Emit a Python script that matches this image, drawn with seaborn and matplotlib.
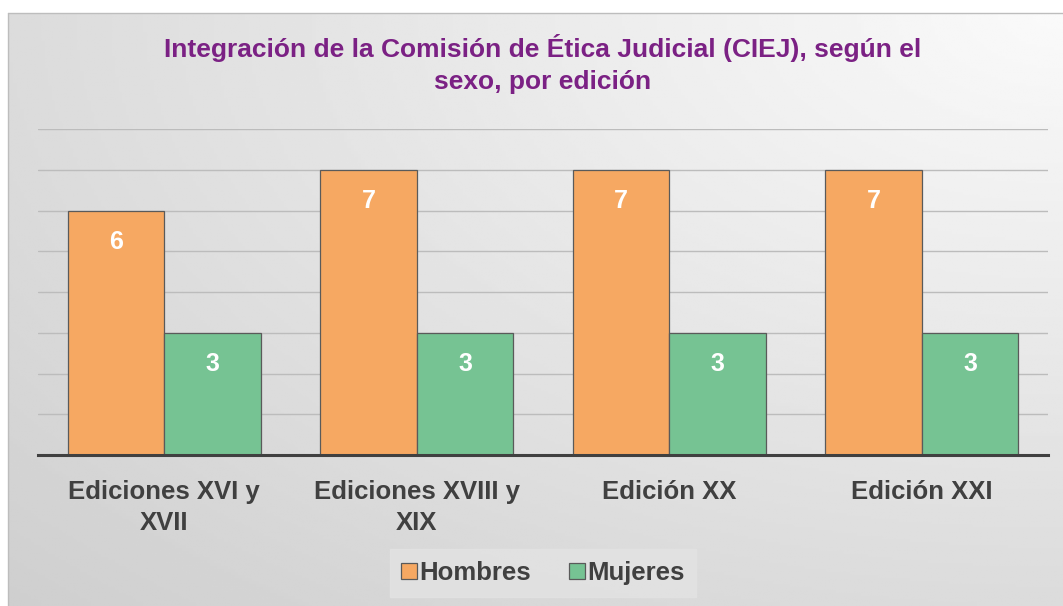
"""Integración de la CIEJ por sexo y edición."""

import matplotlib

matplotlib.use("Agg")

import matplotlib.pyplot as plt
import numpy as np
import pandas as pd
import seaborn as sns

EDICIONES = ["Ediciones XVI y\nXVII", "Ediciones XVIII y\nXIX", "Edición XX", "Edición XXI"]
HOMBRES = [6, 7, 7, 7]
MUJERES = [3, 3, 3, 3]
SEXOS = ["Hombres", "Mujeres"]
COLORES = ["#F6A862", "#76C393"]

TITULO = "Integración de la Comisión de Ética Judicial (CIEJ), según el\nsexo, por edición"


def main() -> None:
    df = pd.DataFrame(
        {
            "edicion": EDICIONES * 2,
            "sexo": [SEXOS[0]] * len(HOMBRES) + [SEXOS[1]] * len(MUJERES),
            "valor": HOMBRES + MUJERES,
        }
    )

    sns.set_theme(style="white")
    plt.rcParams["font.family"] = ["Liberation Sans", "DejaVu Sans"]

    fig = plt.figure(figsize=(10.63, 6.06), dpi=100)
    fig.patch.set_facecolor("white")

    # fondo degradado del área del gráfico
    bg = fig.add_axes([8 / 1063, 0, 1 - 8 / 1063, 1 - 13 / 606], zorder=-2)
    xx, yy = np.meshgrid(np.linspace(0, 1, 300), np.linspace(0, 1, 200))
    dist = np.sqrt((1 - xx) ** 2 + (1 - yy) ** 2) / np.sqrt(2)
    bg.imshow(0.98 - 0.17 * dist, cmap="gray", vmin=0, vmax=1, aspect="auto",
              origin="lower", extent=[0, 1, 0, 1])
    bg.set_axis_off()
    fig.add_artist(plt.Line2D([8 / 1063, 1], [1 - 13 / 606] * 2, color="#bdbdbd", lw=1))
    fig.add_artist(plt.Line2D([8 / 1063] * 2, [0, 1 - 13 / 606], color="#bdbdbd", lw=1))

    ax = fig.add_axes([38 / 1063, 1 - 455 / 606, 1010 / 1063, 326 / 606])
    ax.set_facecolor("none")
    sns.barplot(
        data=df,
        x="edicion",
        y="valor",
        hue="sexo",
        palette=COLORES,
        saturation=1,
        width=0.765,
        edgecolor="#5a5a5a",
        linewidth=0.9,
        ax=ax,
        zorder=2,
    )
    ax.set_ylim(0, 8)
    ax.set_xlim(-0.5, len(EDICIONES) - 0.5)
    ax.set_yticks(range(0, 9))
    ax.yaxis.grid(True, color="#bcbcbc", linewidth=1)
    ax.set_axisbelow(True)
    ax.tick_params(axis="y", left=False, labelleft=False)
    ax.tick_params(axis="x", bottom=False, pad=12)
    ax.set_xlabel("")
    ax.set_ylabel("")
    for side in ("top", "right", "left"):
        ax.spines[side].set_visible(False)
    ax.spines["bottom"].set_color("#404040")
    ax.spines["bottom"].set_linewidth(2.2)
    ax.spines["bottom"].set_zorder(3)
    ax.set_xticks(range(len(EDICIONES)))
    ax.set_xticklabels(EDICIONES, fontsize=18.5, fontweight="bold", color="#404040",
                       linespacing=1.38, va="top")

    for container in ax.containers:
        ax.bar_label(container, fmt="%d", padding=-31, fontsize=18,
                     fontweight="bold", color="white")

    fig.text(0.51, 1 - 64 / 606, TITULO, ha="center", va="center", fontsize=19,
             fontweight="bold", color="#7B2184", linespacing=1.42)

    leg = ax.legend(
        loc="center",
        bbox_to_anchor=(0.5, (455 - 573) / 326),
        ncol=2,
        frameon=True,
        fancybox=False,
        handlelength=0.6,
        handleheight=0.6,
        handletextpad=0.1,
        columnspacing=1.5,
        prop={"size": 18.5, "weight": "bold"},
        borderpad=0.45,
        borderaxespad=0,
    )
    leg.get_frame().set_facecolor("#e3e3e3")
    leg.get_frame().set_edgecolor("#e3e3e3")
    for text in leg.get_texts():
        text.set_color("#404040")

    fig.savefig("out.png", dpi=100)
    plt.close(fig)


if __name__ == "__main__":
    main()
